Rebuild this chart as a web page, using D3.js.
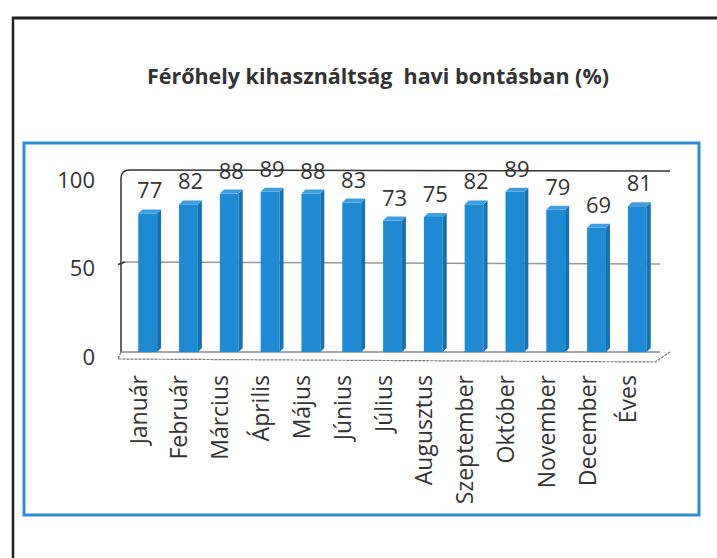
<!DOCTYPE html>
<html><head><meta charset="utf-8">
<script src="https://cdn.jsdelivr.net/npm/d3@7"></script>
<style>body{margin:0;background:#fff}svg{display:block}</style>
</head><body>
<script>
const categories = ["Január","Február","Március","Április","Május","Június","Július","Augusztus","Szeptember","Október","November","December","Éves"];
const values = [77,82,88,89,88,83,73,75,82,89,79,69,81];
const yTicks = [0,50,100];
const title = "Férőhely kihasználtság  havi bontásban (%)";

const W = 717, H = 558;
const svg = d3.select("body").append("svg").attr("width", W).attr("height", H);

// outer scanned frame
svg.append("line").attr("x1",12).attr("y1",18).attr("x2",717).attr("y2",18).attr("stroke","#222").attr("stroke-width",3);
svg.append("line").attr("x1",13).attr("y1",17).attr("x2",13).attr("y2",558).attr("stroke","#222").attr("stroke-width",2.5);

svg.append("text").attr("x",378).attr("y",84).attr("text-anchor","middle")
  .attr("font-family","'Open Sans',sans-serif").attr("font-weight","bold").attr("font-size",21)
  .attr("fill","#333").attr("textLength",462).attr("lengthAdjust","spacingAndGlyphs")
  .style("white-space","pre").text(title);

// blue chart frame
svg.append("rect").attr("x",24).attr("y",143).attr("width",675).attr("height",372)
  .attr("fill","none").attr("stroke","#2b8fd8").attr("stroke-width",3);

const x = d3.scaleBand().domain(categories).range([126,663]).paddingInner(0.44).paddingOuter(0.3);
const y = d3.scaleLinear().domain([0,100]).range([352,172]);
const yLab = d3.scaleLinear().domain([0,100]).range([357,180]);

// 3D walls
const g = svg.append("g");
g.append("path").attr("d",`M121,352 L121,178 Q121,170 130,170 L670,171`).attr("fill","none").attr("stroke","#333").attr("stroke-width",1.5);
g.append("line").attr("x1",121).attr("x2",660).attr("y1",y(50)).attr("y2",y(50)+2).attr("stroke","#999").attr("stroke-width",1.5);
g.append("line").attr("x1",121).attr("x2",660).attr("y1",y(0)).attr("y2",y(0)).attr("stroke","#888").attr("stroke-width",1.5);
g.append("path").attr("d",`M118,${yLab(50)-4} L125,${y(50)}`).attr("stroke","#333").attr("stroke-width",1.5);
g.append("path").attr("d",`M121,352 L118,359 L655,362 L670,352`).attr("fill","none").attr("stroke","#777").attr("stroke-width",1.2).attr("stroke-dasharray","3,1");

// y labels
svg.append("g").selectAll("text").data(yTicks).join("text")
  .attr("x",95).attr("y",d=>yLab(d)).attr("dy","0.35em").attr("text-anchor","end")
  .attr("font-family","'Open Sans',sans-serif").attr("font-size",22).attr("fill","#333").text(d=>d);

// bars
const side = 4, depth = 4;
const bars = svg.append("g").selectAll("g").data(values).join("g");
bars.append("rect").attr("x",(d,i)=>x(categories[i])).attr("y",d=>y(d))
  .attr("width",x.bandwidth()-side).attr("height",d=>y(0)-y(d)).attr("fill","#1f8ad4");
bars.append("path").attr("d",(d,i)=>{const x0=x(categories[i])+x.bandwidth()-side, t=y(d), b=y(0);
  return `M${x0},${t} L${x0+side},${t-depth} L${x0+side},${b-depth} L${x0},${b} Z`;}).attr("fill","#1670b2");
bars.append("path").attr("d",(d,i)=>{const x0=x(categories[i]), w=x.bandwidth()-side, t=y(d);
  return `M${x0},${t} L${x0+side},${t-depth} L${x0+w+side},${t-depth} L${x0+w},${t} Z`;}).attr("fill","#3f9ee0");

// value labels
svg.append("g").selectAll("text").data(values).join("text")
  .attr("x",(d,i)=>x(categories[i])+x.bandwidth()/2).attr("y",d=>y(d)-15)
  .attr("text-anchor","middle").attr("font-family","'Open Sans',sans-serif").attr("font-size",22)
  .attr("fill","#333").text(d=>d);

// x labels
svg.append("g").selectAll("text").data(categories).join("text")
  .attr("transform",(d)=>`translate(${x(d)+x.bandwidth()/2-3},375) rotate(-90)`)
  .attr("text-anchor","end").attr("font-family","'Open Sans',sans-serif").attr("font-size",23)
  .attr("fill","#333").text(d=>d);
</script>
</body></html>
